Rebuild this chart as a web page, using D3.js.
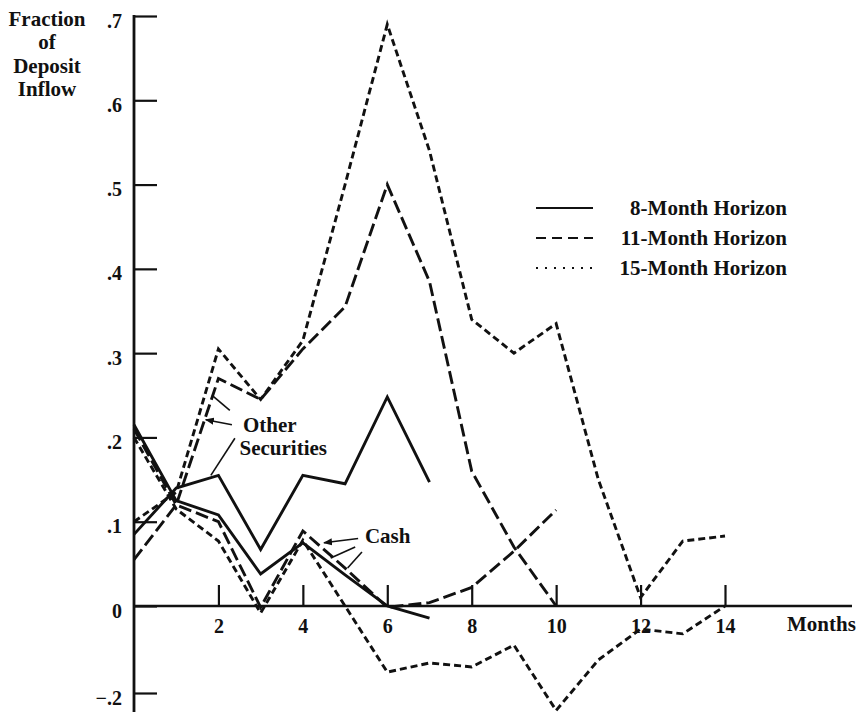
<!DOCTYPE html>
<html>
<head>
<meta charset="utf-8">
<script src="https://cdn.jsdelivr.net/npm/d3@7"></script>
<style>
  html, body { margin: 0; padding: 0; background: #fff; }
  svg { display: block; }
  text { font-family: "Liberation Serif", "Times New Roman", serif; font-weight: bold; fill: #111; }
</style>
</head>
<body>
<svg id="chart" width="858" height="714"></svg>
<script>
// Months since the deposit inflow
const months = [0, 1, 2, 3, 4, 5, 6, 7, 8, 9, 10, 11, 12, 13, 14];

// Other securities, fraction of deposit inflow by horizon
const otherSec8  = [0.085, 0.14, 0.155, 0.067, 0.155, 0.145, 0.248, 0.147];
const otherSec11 = [0.055, 0.12, 0.27, 0.245, 0.305, 0.355, 0.50, 0.385, 0.16, 0.07, 0.0];
const otherSec15 = [0.10, 0.135, 0.305, 0.245, 0.315, 0.50, 0.69, 0.54, 0.34, 0.30, 0.335, 0.15, 0.01, 0.077, 0.083];

// Cash, fraction of deposit inflow by horizon
const cash8  = [0.215, 0.125, 0.108, 0.038, 0.075, 0.037, 0.0, -0.028];
const cash11 = [0.21, 0.12, 0.10, -0.003, 0.089, 0.045, -0.003, 0.004, 0.022, 0.065, 0.114];
const cash15 = [0.20, 0.115, 0.077, -0.016, 0.078, 0.0, -0.152, -0.131, -0.14, -0.09, -0.24, -0.124, -0.053, -0.064, 0.0];

// Axis ticks
const xTicks = [2, 4, 6, 8, 10, 12, 14];
const yTicks = [-0.2, 0, 0.1, 0.2, 0.3, 0.4, 0.5, 0.6, 0.7];
const yTickLabels = ["\u2212.2", "0", ".1", ".2", ".3", ".4", ".5", ".6", ".7"];

// Legend entries
const horizons = ["8-Month Horizon", "11-Month Horizon", "15-Month Horizon"];

const svg = d3.select("#chart");
svg.append("rect").attr("width", 858).attr("height", 714).attr("fill", "#fff");

// Scales: the negative side of the vertical axis is drawn at a compressed step
const x = d3.scaleLinear().domain([0, 14]).range([134, 725]);
const y = d3.scaleLinear().domain([-0.2, 0, 0.7]).range([693, 606, 16]);

const ink = "#111";
const labelSize = 21;

// ---- axes ----
const yAxis = d3.axisLeft(y)
  .tickValues(yTicks)
  .tickSizeInner(-23)
  .tickSizeOuter(0)
  .tickPadding(12)
  .tickFormat((d, i) => yTickLabels[i]);

const gy = svg.append("g").attr("transform", `translate(${x(0)},0)`).call(yAxis);
gy.select(".domain").remove();
gy.selectAll(".tick line").attr("stroke", ink).attr("stroke-width", 2.2);
gy.selectAll(".tick text")
  .attr("fill", ink)
  .attr("font-size", 20)
  .attr("font-family", "Liberation Serif, serif")
  .attr("font-weight", "bold")
  .attr("dy", "0.55em");

const xAxis = d3.axisBottom(x)
  .tickValues(xTicks)
  .tickSizeInner(-21)
  .tickSizeOuter(0)
  .tickPadding(14)
  .tickFormat(d3.format("d"));

const gx = svg.append("g").attr("transform", `translate(0,${y(0)})`).call(xAxis);
gx.select(".domain").remove();
gx.selectAll(".tick line").attr("stroke", ink).attr("stroke-width", 2.2);
gx.selectAll(".tick text")
  .attr("fill", ink)
  .attr("font-size", 20)
  .attr("font-family", "Liberation Serif, serif")
  .attr("font-weight", "bold")
  .attr("dy", "0.66em");

// axis spines
svg.append("line")
  .attr("x1", x(0)).attr("x2", x(0))
  .attr("y1", y(0.7) - 1).attr("y2", 712)
  .attr("stroke", ink).attr("stroke-width", 2.8);
svg.append("line")
  .attr("x1", x(0)).attr("x2", 852)
  .attr("y1", y(0)).attr("y2", y(0))
  .attr("stroke", ink).attr("stroke-width", 2.6);

svg.append("text")
  .attr("x", 787).attr("y", y(0) + 25)
  .attr("font-size", labelSize)
  .text("Months");

// vertical axis title
const title = ["Fraction", "of", "Deposit", "Inflow"];
svg.append("text")
  .attr("x", 47).attr("y", 26)
  .attr("font-size", labelSize)
  .attr("text-anchor", "middle")
  .selectAll("tspan")
  .data(title)
  .join("tspan")
  .attr("x", 47)
  .attr("dy", (d, i) => i === 0 ? 0 : 23.3)
  .text(d => d);

// ---- series ----
const dashes = { 8: null, 11: "13,5", 15: "7,4" };
const series = [
  { values: otherSec8, h: 8 },
  { values: otherSec11, h: 11 },
  { values: otherSec15, h: 15 },
  { values: cash8, h: 8 },
  { values: cash11, h: 11 },
  { values: cash15, h: 15 }
];

const line = d3.line()
  .x((d, i) => x(months[i]))
  .y(d => y(d));

svg.append("g")
  .selectAll("path")
  .data(series)
  .join("path")
  .attr("d", d => line(d.values))
  .attr("fill", "none")
  .attr("stroke", ink)
  .attr("stroke-width", 2.9)
  .attr("stroke-linejoin", "miter")
  .attr("stroke-dasharray", d => dashes[d.h]);

// ---- annotations ----
const defs = svg.append("defs");
defs.append("marker")
  .attr("id", "head")
  .attr("viewBox", "0 0 10 10")
  .attr("refX", 9).attr("refY", 5)
  .attr("markerWidth", 9).attr("markerHeight", 9)
  .attr("markerUnits", "userSpaceOnUse")
  .attr("orient", "auto")
  .append("path")
  .attr("d", "M0,1 L10,5 L0,9 Z")
  .attr("fill", ink);

function leader(m1, v1, m2, v2, arrow) {
  svg.append("line")
    .attr("x1", x(m1)).attr("y1", y(v1))
    .attr("x2", x(m2)).attr("y2", y(v2))
    .attr("stroke", ink).attr("stroke-width", 1.6)
    .attr("marker-end", arrow ? "url(#head)" : null);
}

// Other Securities
svg.append("text").attr("x", x(2.58)).attr("y", y(0.206)).attr("font-size", labelSize).text("Other");
svg.append("text").attr("x", x(2.50)).attr("y", y(0.179)).attr("font-size", labelSize).text("Securities");
leader(2.27, 0.232, 1.85, 0.250, false);
leader(2.32, 0.215, 1.70, 0.221, true);
leader(2.39, 0.199, 1.82, 0.155, false);

// Cash
svg.append("text").attr("x", x(5.47)).attr("y", y(0.075)).attr("font-size", labelSize).text("Cash");
leader(5.31, 0.080, 4.50, 0.075, true);
leader(5.24, 0.070, 4.66, 0.057, false);
leader(5.40, 0.064, 5.06, 0.045, false);

// ---- legend ----
const legendDash = ["", "10,6", "2,7"];
const lg = svg.append("g");
horizons.forEach((label, i) => {
  const yy = 208 + i * 30;
  lg.append("line")
    .attr("x1", 536).attr("x2", 593)
    .attr("y1", yy).attr("y2", yy)
    .attr("stroke", ink)
    .attr("stroke-width", i === 2 ? 2 : 1.8)
    .attr("stroke-dasharray", legendDash[i] || null);
  lg.append("text")
    .attr("x", 787).attr("y", yy + 7)
    .attr("font-size", labelSize)
    .attr("text-anchor", "end")
    .text(label);
});
</script>
</body>
</html>
